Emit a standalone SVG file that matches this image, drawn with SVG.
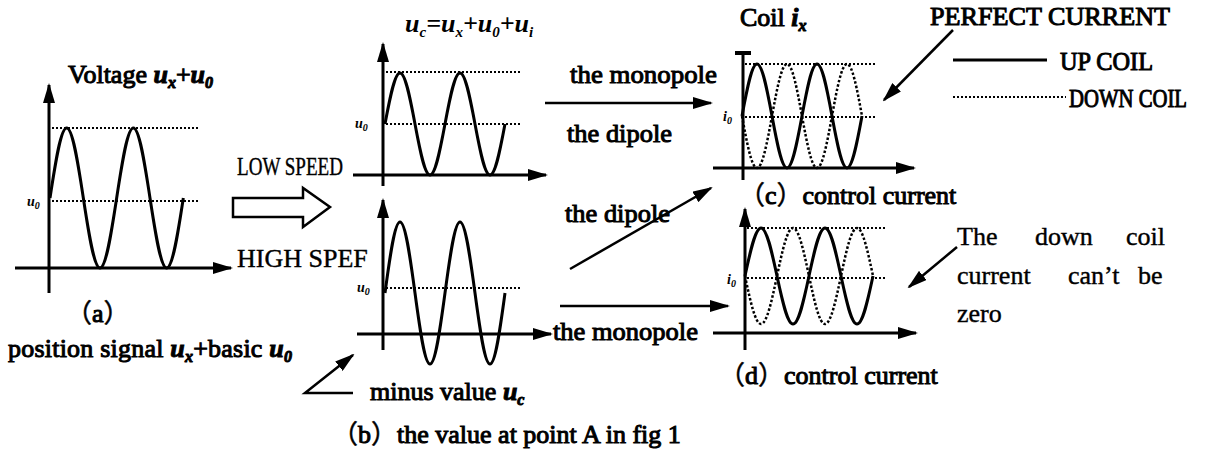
<svg xmlns="http://www.w3.org/2000/svg" width="1207" height="450" viewBox="0 0 1207 450">
<style>
.t{font-family:"Liberation Serif",serif;font-size:26px;fill:#000}
.cj{font-family:"Noto Sans CJK SC",sans-serif;stroke-width:0.5px}
.b{stroke:#000;stroke-width:1px}
.r{stroke:#000;stroke-width:0.4px}
.mi{font-style:italic;font-weight:bold}
.sm{font-size:14px;stroke:none}
.ax{stroke:#000;stroke-width:3;fill:none}
.w{stroke:#000;stroke-width:3;fill:none;stroke-linejoin:round}
.wd{stroke:#000;stroke-width:2.5;fill:none;stroke-dasharray:2.5 2}
.dl{stroke:#000;stroke-width:2;fill:none;stroke-dasharray:2 2}
.cn{stroke:#000;stroke-width:2.5;fill:none}
</style>
<defs>
<marker id="ah" viewBox="0 0 20 12" refX="18" refY="6" markerWidth="20" markerHeight="12" markerUnits="userSpaceOnUse" orient="auto"><path d="M0,0 L20,6 L0,12 z" fill="#000"/></marker>
</defs>
<rect width="1207" height="450" fill="#fff"/>

<g id="panel-a">
<line class="ax" x1="49" y1="293" x2="49" y2="85" marker-end="url(#ah)"/>
<line class="ax" x1="15" y1="268" x2="231" y2="268" marker-end="url(#ah)"/>
<line class="dl" x1="52" y1="128" x2="198" y2="128"/>
<line class="dl" x1="52" y1="201" x2="198" y2="201"/>
<path class="w" d="M50,198 C55.44,162.14 60.64,128 66.67,128 S77.9,162.14 83.33,198 S93.97,268 100,268 S111.23,233.86 116.67,198 S127.3,128 133.33,128 S144.56,162.14 150,198 S160.64,268 166.67,268 S177.9,233.86 183.33,198"/>
<text class="t b" x="68" y="83">Voltage <tspan class="mi">u</tspan><tspan class="mi" font-size="16" dy="5">x</tspan><tspan dy="-5">+</tspan><tspan class="mi">u</tspan><tspan class="mi" font-size="16" dy="5">0</tspan></text>
<text class="t mi sm" x="27" y="206">u<tspan font-size="10" dy="3">0</tspan></text>
<text class="t b" x="66" y="322"><tspan class="cj">（</tspan>a<tspan class="cj">）</tspan></text>
<text class="t b" x="8" y="357" textLength="284">position signal <tspan class="mi">u</tspan><tspan class="mi" font-size="16" dy="5">x</tspan><tspan dy="-5">+basic </tspan><tspan class="mi">u</tspan><tspan class="mi" font-size="16" dy="5">0</tspan></text>
</g>

<g id="panel-b">
<line class="ax" x1="383" y1="186" x2="383" y2="44" marker-end="url(#ah)"/>
<line class="ax" x1="353" y1="175" x2="546" y2="175" marker-end="url(#ah)"/>
<line class="dl" x1="386" y1="72" x2="520" y2="72"/>
<line class="dl" x1="386" y1="124" x2="520" y2="124"/>
<path class="w" d="M385,124 C389.89,97.87 394.57,73 400,73 S410.11,97.87 415,124 S424.57,175 430,175 S440.11,150.13 445,124 S454.57,73 460,73 S470.11,97.87 475,124 S484.57,175 490,175 S500.11,150.13 505,124"/>
<text class="t mi" x="405" y="32" font-size="24">u<tspan font-size="15" dy="5">c</tspan><tspan dy="-5">=u</tspan><tspan font-size="15" dy="5">x</tspan><tspan dy="-5">+u</tspan><tspan font-size="15" dy="5">0</tspan><tspan dy="-5">+u</tspan><tspan font-size="15" dy="5">i</tspan></text>
<text class="t mi sm" x="355" y="128">u<tspan font-size="10" dy="3">0</tspan></text>
<line class="ax" x1="383" y1="350" x2="383" y2="200" marker-end="url(#ah)"/>
<line class="ax" x1="357" y1="334" x2="551" y2="334" marker-end="url(#ah)"/>
<line class="dl" x1="386" y1="288" x2="520" y2="288"/>
<path class="w" d="M385,293 C389.89,256.63 394.57,222 400,222 S410.11,256.63 415,293 S424.57,364 430,364 S440.11,329.37 445,293 S454.57,222 460,222 S470.11,256.63 475,293 S484.57,364 490,364 S500.11,329.37 505,293"/>
<text class="t mi sm" x="357" y="292">u<tspan font-size="10" dy="3">0</tspan></text>
<text class="t b" x="370" y="400">minus value <tspan class="mi">u</tspan><tspan class="mi" font-size="16" dy="5">c</tspan></text>
<text class="t b" x="332" y="443"><tspan class="cj">（</tspan>b<tspan class="cj">）</tspan>the value at point A in fig 1</text>
</g>

<g id="panel-c">
<line class="ax" x1="743" y1="180" x2="743" y2="54"/>
<line x1="735" y1="53" x2="751" y2="53" stroke="#000" stroke-width="4"/>
<line class="ax" x1="713" y1="168" x2="914" y2="168" marker-end="url(#ah)"/>
<line class="dl" x1="745" y1="64" x2="875" y2="64"/>
<line class="dl" x1="745" y1="117" x2="875" y2="117"/>
<path class="w" d="M742,116 C746.89,89.36 751.57,64 757,64 S767.11,89.36 772,116 S781.57,168 787,168 S797.11,142.64 802,116 S811.57,64 817,64 S827.11,89.36 832,116 S841.57,168 847,168 S857.11,142.64 862,116"/>
<path class="wd" d="M742,116 C746.89,142.64 751.57,168 757,168 S767.11,142.64 772,116 S781.57,64 787,64 S797.11,89.36 802,116 S811.57,168 817,168 S827.11,142.64 832,116 S841.57,64 847,64 S857.11,89.36 862,116"/>
<text class="t b" x="740" y="26">Coil <tspan class="mi">i</tspan><tspan class="mi" font-size="16" dy="5">x</tspan></text>
<text class="t mi sm" x="723" y="121">i<tspan font-size="10" dy="3">0</tspan></text>
<text class="t b" x="739" y="204" font-size="25"><tspan class="cj">（</tspan>c<tspan class="cj">）</tspan>control current</text>
</g>

<g id="panel-d">
<line class="ax" x1="745" y1="350" x2="745" y2="209" marker-end="url(#ah)"/>
<line class="ax" x1="713" y1="333" x2="916" y2="333" marker-end="url(#ah)"/>
<line class="dl" x1="747" y1="228" x2="887" y2="228"/>
<line class="dl" x1="747" y1="278" x2="887" y2="278"/>
<path class="w" d="M745,276 C750.22,251.41 755.21,228 761,228 S771.78,251.41 777,276 S787.21,324 793,324 S803.78,300.59 809,276 S819.21,228 825,228 S835.78,251.41 841,276 S851.21,324 857,324 S867.78,300.59 873,276"/>
<path class="wd" d="M745,276 C750.22,300.59 755.21,324 761,324 S771.78,300.59 777,276 S787.21,228 793,228 S803.78,251.41 809,276 S819.21,324 825,324 S835.78,300.59 841,276 S851.21,228 857,228 S867.78,251.41 873,276"/>
<text class="t mi sm" x="727" y="284">i<tspan font-size="10" dy="3">0</tspan></text>
<text class="t b" x="719" y="384" font-size="25"><tspan class="cj">（</tspan>d<tspan class="cj">）</tspan>control current</text>
</g>

<g id="legend">
<text class="t b" x="930" y="25" textLength="240" lengthAdjust="spacingAndGlyphs">PERFECT CURRENT</text>
<line x1="953" y1="60" x2="1047" y2="60" stroke="#000" stroke-width="3"/>
<text class="t b" x="1060" y="70" font-size="24" textLength="93" lengthAdjust="spacingAndGlyphs">UP COIL</text>
<line class="dl" x1="953" y1="97" x2="1066" y2="97"/>
<text class="t b" x="1069" y="107" font-size="19" textLength="118" lengthAdjust="spacingAndGlyphs">DOWN COIL</text>
</g>

<g id="note">
<text class="t r" x="957" y="245" font-size="25">The</text>
<text class="t r" x="1035" y="245" font-size="25">down</text>
<text class="t r" x="1126" y="245" font-size="25">coil</text>
<text class="t r" x="957" y="284" font-size="25">current</text>
<text class="t r" x="1068" y="284" font-size="25">can’t</text>
<text class="t r" x="1138" y="284" font-size="25">be</text>
<text class="t r" x="957" y="322" font-size="25">zero</text>
</g>

<g id="labels">
<text class="t r" x="237" y="175" textLength="106" lengthAdjust="spacingAndGlyphs">LOW SPEED</text>
<text class="t r" x="237" y="267" font-size="24">HIGH SPEF</text>
<text class="t b" x="570" y="83" textLength="147" lengthAdjust="spacingAndGlyphs">the monopole</text>
<text class="t b" x="567" y="142" textLength="105" lengthAdjust="spacingAndGlyphs">the dipole</text>
<text class="t b" x="565" y="222" textLength="105" lengthAdjust="spacingAndGlyphs">the dipole</text>
<text class="t b" x="553" y="340" textLength="145" lengthAdjust="spacingAndGlyphs">the monopole</text>
</g>

<g id="connectors">
<polygon points="233,198 303,198 303,188 330,207 303,227 303,217 233,217" fill="#fff" stroke="#000" stroke-width="2.5"/>
<line class="cn" x1="545" y1="103" x2="711" y2="103" marker-end="url(#ah)"/>
<line class="cn" x1="570" y1="269" x2="711" y2="188" marker-end="url(#ah)"/>
<line class="cn" x1="560" y1="306" x2="728" y2="306" marker-end="url(#ah)"/>
<line class="cn" x1="953" y1="30" x2="884" y2="100" marker-end="url(#ah)"/>
<line class="cn" x1="957" y1="247" x2="909" y2="287" marker-end="url(#ah)"/>
<polyline class="cn" points="353,393 305,393 353,355" marker-end="url(#ah)"/>
</g>
</svg>
